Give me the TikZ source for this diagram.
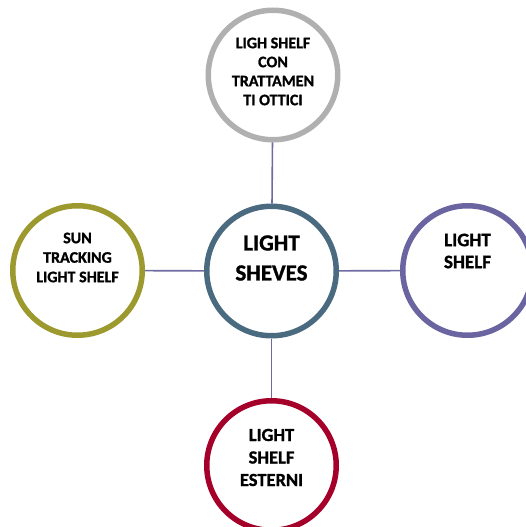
\documentclass[tikz,border=0pt]{standalone}
\usepackage{fontspec}
\setmainfont{Carlito}
\newfontfamily\heavy{Carlito Bold}[FakeBold=1.2]
\definecolor{cgray}{HTML}{B0B0B0}
\definecolor{colive}{HTML}{9C9A2E}
\definecolor{cpurple}{HTML}{6A65A0}
\definecolor{cslate}{HTML}{4A6A80}
\definecolor{cred}{HTML}{A5002A}
\definecolor{cline}{HTML}{6E6AA2}
\begin{document}
\begin{tikzpicture}[x=1pt,y=-1pt,
  bubble/.style={circle,draw,line width=5.5pt,fill=white,minimum size=129.5pt,inner sep=0pt},
  txt/.style={align=center,text=black},
  link/.style={draw=cline,line width=1.6pt}]
\useasboundingbox (0,0) rectangle (526,527);
\node[bubble,draw=cslate,label={[txt,font=\heavy\fontsize{23}{30}\selectfont,yshift=13pt]center:LIGHT\\SHEVES}] (c) at (271.5,271) {};
\node[bubble,draw=cgray,label={[txt,font=\heavy\fontsize{16}{19}\selectfont,yshift=3.5pt]center:LIGH SHELF\\CON\\TRATTAMEN\\TI OTTICI}] (t) at (273,75) {};
\node[bubble,draw=colive,label={[txt,font=\heavy\fontsize{16}{19.5}\selectfont,yshift=13pt]center:SUN\\TRACKING\\LIGHT SHELF}] (l) at (77.5,270.5) {};
\node[bubble,draw=cpurple,label={[txt,font=\heavy\fontsize{19}{22}\selectfont,yshift=19.5pt]center:LIGHT\\SHELF}] (r) at (467.5,270.5) {};
\node[bubble,draw=cred,label={[txt,font=\heavy\fontsize{18.5}{22.5}\selectfont,yshift=8pt]center:LIGHT\\SHELF\\ESTERNI}] (b) at (271.5,465.5) {};
\draw[link] (t) -- (c);
\draw[link] (l) -- (c);
\draw[link] (c) -- (r);
\draw[link] (c) -- (b);
\end{tikzpicture}
\end{document}
